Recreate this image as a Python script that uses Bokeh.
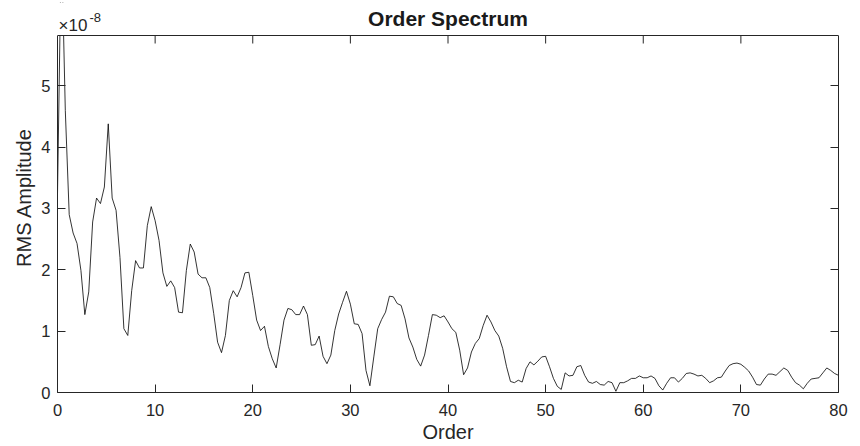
import math
from bokeh.plotting import figure
from bokeh.models import (Range1d, LinearAxis, FixedTicker, CustomJSTickFormatter, Label,
                          BoxAnnotation, Span)
from bokeh.embed import file_html
from bokeh.resources import INLINE

# RMS amplitude (units of 1e-8) sampled every 0.4 order from 0 to 80
amp_e8 = [
    3.24, 7.4, 4.6, 2.90, 2.60, 2.43, 1.99, 1.27, 1.64, 2.78,
    3.17, 3.08, 3.35, 4.38, 3.17, 2.97, 2.20, 1.04, 0.93, 1.66,
    2.15, 2.03, 2.03, 2.72, 3.03, 2.80, 2.48, 1.95, 1.73, 1.82,
    1.71, 1.31, 1.30, 1.99, 2.42, 2.29, 1.93, 1.87, 1.87, 1.71,
    1.29, 0.82, 0.65, 0.93, 1.50, 1.66, 1.56, 1.71, 1.95, 1.96,
    1.58, 1.18, 1.01, 1.08, 0.75, 0.55, 0.40,
    0.78, 1.18, 1.37, 1.35, 1.27, 1.27, 1.41, 1.27, 0.77, 0.78,
    0.92, 0.59, 0.47, 0.61, 1.01, 1.28, 1.47, 1.65, 1.44, 1.12,
    1.11, 0.96, 0.36, 0.11, 0.58, 1.04, 1.19, 1.31, 1.57, 1.56,
    1.45, 1.42, 1.20, 0.89, 0.74, 0.54, 0.43, 0.61, 0.93, 1.27,
    1.26, 1.22, 1.25, 1.15, 1.04, 0.98, 0.69, 0.29, 0.40, 0.66,
    0.80, 0.88, 1.09, 1.26, 1.15, 1.01, 0.92, 0.72, 0.42, 0.18,
    0.16, 0.20, 0.17, 0.39, 0.50, 0.45, 0.51, 0.58, 0.59, 0.42,
    0.23, 0.10, 0.05,
    0.32, 0.27, 0.28, 0.42, 0.44, 0.28, 0.17, 0.15, 0.18, 0.13,
    0.12, 0.18, 0.16, 0.02, 0.16, 0.16, 0.19, 0.23, 0.23, 0.27,
    0.24, 0.24, 0.27, 0.23, 0.11, 0.04, 0.15, 0.24, 0.24, 0.17,
    0.23, 0.31, 0.32, 0.30, 0.27, 0.28, 0.23, 0.16, 0.19, 0.24,
    0.25, 0.35, 0.44, 0.47, 0.48, 0.46, 0.41, 0.35, 0.25, 0.13,
    0.12, 0.22, 0.30, 0.30, 0.28, 0.34, 0.40, 0.36, 0.25, 0.16,
    0.12, 0.06, 0.15, 0.22, 0.23, 0.24, 0.32, 0.40, 0.36, 0.31,
    0.28,
]
order_step = 0.4
order = [round(i * order_step, 1) for i in range(len(amp_e8))]
amp = [v * 1e-8 for v in amp_e8]

x_ticks = [0, 10, 20, 30, 40, 50, 60, 70, 80]
y_ticks = [0, 1e-8, 2e-8, 3e-8, 4e-8, 5e-8]
x_min, x_max = 0, 80
y_max = 5.82e-8
title_text = "Order Spectrum"
x_label = "Order"
y_label = "RMS Amplitude"
exp_base = "\u00d710"
exp_power = "-8"

FONT = "Liberation Sans"
TXT = "#262626"

# layout geometry (pixels)
W, H = 860, 446
FRAME_TOP, AX_TOP, AX_BOTTOM = 2, 35, 392
y_top = y_max * (AX_BOTTOM - FRAME_TOP) / (AX_BOTTOM - AX_TOP)

p = figure(width=W, height=H, output_backend="svg", toolbar_location=None, title=None,
           x_range=Range1d(x_min, x_max), y_range=Range1d(0, y_top),
           min_border_left=57, min_border_right=22, min_border_top=FRAME_TOP,
           min_border_bottom=H - AX_BOTTOM)
p.background_fill_color = "white"
p.border_fill_color = "white"
p.outline_line_color = None
p.grid.visible = False

p.line(order, amp, line_color="black", line_width=0.8)

# inward ticks along the top edge of the box
p.ray(x=x_ticks, y=[y_max] * len(x_ticks), length=8, length_units="screen",
      angle=-math.pi / 2, line_color=TXT, line_width=1)

def style(ax, show_labels):
    ax.axis_line_color = TXT
    ax.axis_line_width = 1
    ax.major_tick_in = 8
    ax.major_tick_out = 0
    ax.minor_tick_line_color = None
    ax.major_tick_line_color = TXT
    ax.major_label_text_color = TXT
    ax.major_label_text_font = FONT
    ax.major_label_text_font_size = "16.5px"
    if not show_labels:
        ax.formatter = CustomJSTickFormatter(code="return '';")
        ax.major_label_standoff = 0

xa = p.xaxis[0]
xa.ticker = FixedTicker(ticks=x_ticks)
style(xa, True)
xa.major_label_standoff = 11
xa.axis_label = x_label
xa.axis_label_text_font = FONT
xa.axis_label_text_font_size = "20px"
xa.axis_label_text_font_style = "normal"
xa.axis_label_text_color = TXT
xa.axis_label_standoff = 2

ya = p.yaxis[0]
ya.ticker = FixedTicker(ticks=y_ticks)
ya.bounds = (0, y_max)
ya.formatter = CustomJSTickFormatter(code="return (tick*1e8).toFixed(0);")
style(ya, True)
ya.major_label_standoff = 7
ya.axis_label = y_label
ya.axis_label_text_font = FONT
ya.axis_label_text_font_size = "20px"
ya.axis_label_text_font_style = "normal"
ya.axis_label_text_color = TXT
ya.axis_label_standoff = 3

right = LinearAxis(ticker=FixedTicker(ticks=y_ticks), bounds=(0, y_max))
style(right, False)
p.add_layout(right, "right")

# hide anything above the axes box, then draw the box top edge
p.add_layout(BoxAnnotation(bottom=y_max, fill_color="white", fill_alpha=1, line_color=None))
p.add_layout(Span(location=y_max, dimension="width", line_color=TXT, line_width=1))

p.add_layout(Label(x=(x_min + x_max) / 2, y=y_max, y_offset=17, text=title_text,
                   text_font=FONT, text_font_size="21px", text_font_style="bold",
                   text_color="#1a1a1a", text_baseline="middle", text_align="center"))
p.add_layout(Label(x=x_min, y=y_max, x_offset=1, y_offset=10, text=exp_base,
                   text_font=FONT, text_font_size="17px", text_color=TXT,
                   text_baseline="middle", text_align="left"))
p.add_layout(Label(x=x_min, y=y_max, x_offset=32, y_offset=18, text=exp_power,
                   text_font=FONT, text_font_size="13px", text_color=TXT,
                   text_baseline="middle", text_align="left"))

open("out.html", "w").write(file_html(p, INLINE))
